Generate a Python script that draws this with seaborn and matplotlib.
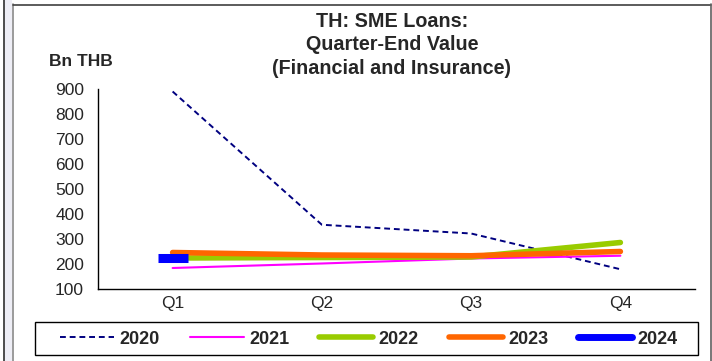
import numpy as np
import pandas as pd
import matplotlib
matplotlib.use("Agg")
import matplotlib.pyplot as plt
from matplotlib.lines import Line2D
from matplotlib.patches import Rectangle
import seaborn as sns

sns.set_style("white")
plt.rcParams["font.family"] = ["Liberation Sans", "DejaVu Sans"]

# data (Bn THB, quarter-end values)
quarters = ["Q1", "Q2", "Q3", "Q4"]
v2020 = [890, 357, 322, 179]
v2021 = [184, 202, 222, 233]
v2022 = [224, 226, 228, 286]
v2023 = [246, 236, 233, 250]
v2024 = [225]

series = [
    ("2020", v2020, "#000080", 1.4, (0, (3, 2))),
    ("2021", v2021, "#FF00FF", 1.5, "-"),
    ("2022", v2022, "#99CC00", 4.0, "-"),
    ("2023", v2023, "#FF6600", 4.0, "-"),
    ("2024", v2024, "#0000FF", 5.0, "-"),
]

W, H = 712, 361
fig = plt.figure(figsize=(W / 100, H / 100), dpi=100)
fig.patch.set_facecolor("white")


def fx(px):
    return px / W


def fy(py):
    return 1 - py / H


# outer frame like the source screenshot
fig.patches.append(Rectangle((fx(4), 0), fx(8), 1, transform=fig.transFigure,
                             facecolor="#eeeef6", edgecolor="none", zorder=0))
fig.add_artist(Line2D([fx(3.5)] * 2, [0, 1], color="#303030", lw=1.2, transform=fig.transFigure))
fig.add_artist(Line2D([fx(12.5)] * 2, [0, fy(4)], color="#8a8a8a", lw=1.2, transform=fig.transFigure))
fig.add_artist(Line2D([fx(12.5), fx(711)], [fy(4.5)] * 2, color="#404040", lw=1.2, transform=fig.transFigure))
fig.add_artist(Line2D([fx(710.5)] * 2, [0, fy(4)], color="#606060", lw=1.2, transform=fig.transFigure))

ax = fig.add_axes([fx(98), fy(289), fx(695) - fx(98), fy(89) - fy(289)])
ax.set_facecolor("none")

rows = []
for name, vals, *_ in series:
    for q, v in zip(quarters, vals):
        rows.append({"year": name, "quarter": quarters.index(q), "value": v})
df = pd.DataFrame(rows)

handles = []
for name, vals, color, lw, ls in series:
    d = df[df["year"] == name]
    if len(d) > 1:
        sns.lineplot(data=d, x="quarter", y="value", ax=ax, color=color, lw=lw,
                     linestyle=ls, legend=False, zorder=3)
    else:
        # single point: Excel shows it as a short thick dash
        ax.plot(d["quarter"], d["value"], linestyle="none", marker="_",
                markersize=22, markeredgewidth=lw + 1.5, color=color, zorder=3)
    handles.append(Line2D([], [], color=color, lw=lw, linestyle=ls, solid_capstyle="round"))

ax.set_xlim(-0.5, 3.5)
ax.set_ylim(100, 900)
ax.set_yticks(range(100, 1000, 100))
ax.set_xticks(range(4))
ax.set_xticklabels(quarters)
ax.set_xticks([-0.5, 0.5, 1.5, 2.5, 3.5], minor=True)
ax.tick_params(axis="x", which="major", length=0, pad=5, labelsize=12.5)
ax.tick_params(axis="x", which="minor", length=5, width=1, color="black", direction="out")
ax.tick_params(axis="y", length=4, width=1, color="black", direction="out", pad=6, labelsize=12.5)
ax.set_xlabel("")
ax.set_ylabel("")
for s in ["top", "right"]:
    ax.spines[s].set_visible(False)
for s in ["left", "bottom"]:
    ax.spines[s].set_color("black")
    ax.spines[s].set_linewidth(1)

fig.text(fx(81), fy(62), "Bn THB", ha="center", va="center", fontsize=12.5, fontweight="bold")
fig.text(fx(392), fy(45), "TH: SME Loans:\nQuarter-End Value\n(Financial and Insurance)",
         ha="center", va="center", fontsize=14.2, fontweight="bold", linespacing=1.33)

# legend box drawn separately, entries centred inside it
fig.patches.append(Rectangle((fx(35), fy(355)), fx(698) - fx(35), fy(322) - fy(355),
                             transform=fig.transFigure, facecolor="white",
                             edgecolor="black", lw=1, zorder=1))
leg = fig.legend(handles, [s[0] for s in series], ncol=5, loc="center",
                 bbox_to_anchor=(fx(369), fy(339)), bbox_transform=fig.transFigure,
                 frameon=False, handlelength=3.0, handletextpad=0.3, columnspacing=1.65,
                 borderaxespad=0, prop={"weight": "bold", "size": 13})

fig.savefig("out.png", dpi=100)
